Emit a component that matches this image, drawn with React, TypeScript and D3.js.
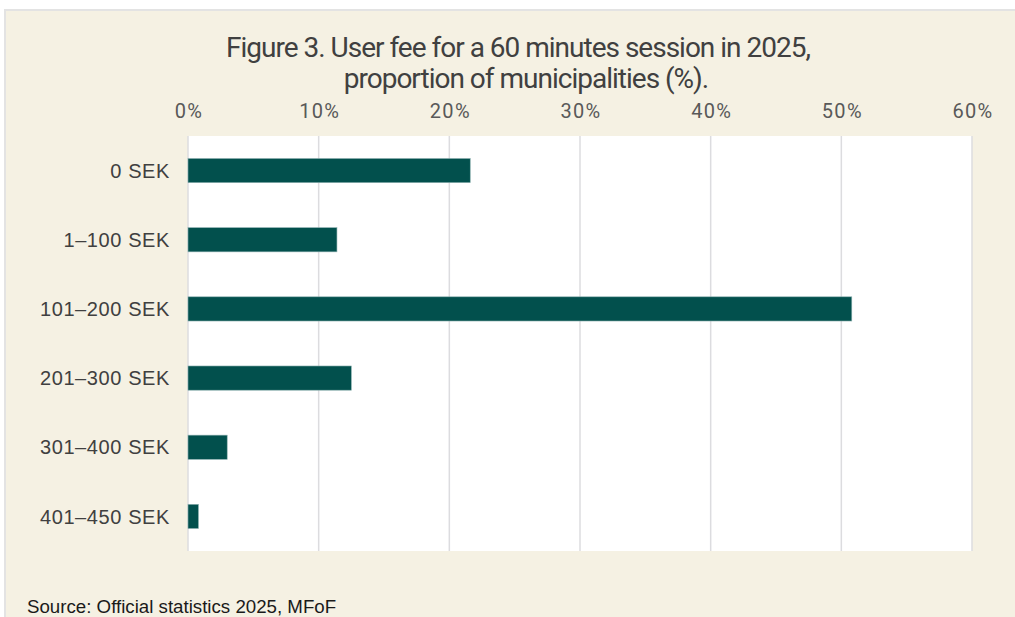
import * as d3 from "d3";
import { useEffect, useRef } from "react";

// fee bands and share of municipalities (%)
const categories = ["0 SEK", "1–100 SEK", "101–200 SEK", "201–300 SEK", "301–400 SEK", "401–450 SEK"];
const shares = [21.6, 11.4, 50.8, 12.5, 3.0, 0.8];
const ticks = [0, 10, 20, 30, 40, 50, 60];

const W = 1015;
const H = 617;

export default function App() {
  const svgRef = useRef<SVGSVGElement>(null);

  useEffect(() => {
    const svg = d3.select(svgRef.current);
    svg.selectAll("*").remove();

    // beige panel with a thin grey frame on top and left
    svg.append("rect").attr("x", 0).attr("y", 0).attr("width", W).attr("height", H).attr("fill", "#ffffff");
    svg.append("rect").attr("x", 4).attr("y", 9).attr("width", W).attr("height", H).attr("fill", "#e3e3e3");
    svg.append("rect").attr("x", 6).attr("y", 11).attr("width", W).attr("height", H).attr("fill", "#f5f1e3");

    const left = 188, right = 972, top = 136, bottom = 551;

    const x = d3.scaleLinear().domain([0, 60]).range([left, right]);
    const y = d3.scaleBand().domain(categories).range([top, bottom]).paddingInner(0.65).paddingOuter(0.325);

    svg.append("rect")
      .attr("x", left).attr("y", top)
      .attr("width", right - left).attr("height", bottom - top)
      .attr("fill", "#ffffff");

    // vertical gridlines
    svg.append("g")
      .selectAll("line")
      .data(ticks)
      .join("line")
      .attr("x1", (d) => x(d)).attr("x2", (d) => x(d))
      .attr("y1", top).attr("y2", bottom)
      .attr("stroke", "#dcdcdf")
      .attr("stroke-width", 1.5);

    // tick labels on top
    svg.append("g")
      .selectAll("text")
      .data(ticks)
      .join("text")
      .attr("x", (d) => x(d) + 1)
      .attr("y", 117.5)
      .attr("text-anchor", "middle")
      .attr("font-family", "Roboto, sans-serif")
      .attr("font-size", 20)
      .attr("letter-spacing", 1.3)
      .attr("fill", "#595959")
      .text((d) => d + "%");

    // bars
    svg.append("g")
      .selectAll("rect")
      .data(shares)
      .join("rect")
      .attr("x", x(0))
      .attr("y", (_, i) => y(categories[i])!)
      .attr("width", (d) => x(d) - x(0))
      .attr("height", y.bandwidth())
      .attr("fill", "#02504d")
      .attr("stroke", "#8fb2b1")
      .attr("stroke-width", 0.6);

    // category labels
    svg.append("g")
      .selectAll("text")
      .data(categories)
      .join("text")
      .attr("x", 170)
      .attr("y", (d) => y(d)! + y.bandwidth() / 2)
      .attr("dy", "0.36em")
      .attr("text-anchor", "end")
      .attr("font-family", "Liberation Sans, Arial, sans-serif")
      .attr("font-size", 20)
      .attr("letter-spacing", 0.6)
      .attr("fill", "#404040")
      .text((d) => d);

    // title
    const title = svg.append("text")
      .attr("text-anchor", "middle")
      .attr("font-family", "Roboto, sans-serif")
      .attr("font-size", 28)
      .attr("letter-spacing", -1)
      .attr("fill", "#404040");
    title.append("tspan").attr("x", 518).attr("y", 57).text("Figure 3. User fee for a 60 minutes session in 2025,");
    title.append("tspan").attr("x", 526).attr("y", 88).text("proportion of municipalities (%).");

    svg.append("text")
      .attr("x", 27)
      .attr("y", 613)
      .attr("font-family", "Liberation Sans, Arial, sans-serif")
      .attr("font-size", 18.7)
      .attr("fill", "#1a1a1a")
      .text("Source: Official statistics 2025, MFoF");
  }, []);

  return (
    <svg
      ref={svgRef}
      width={W}
      height={H}
      style={{ position: "absolute", left: 0, top: 0, display: "block" }}
    />
  );
}
